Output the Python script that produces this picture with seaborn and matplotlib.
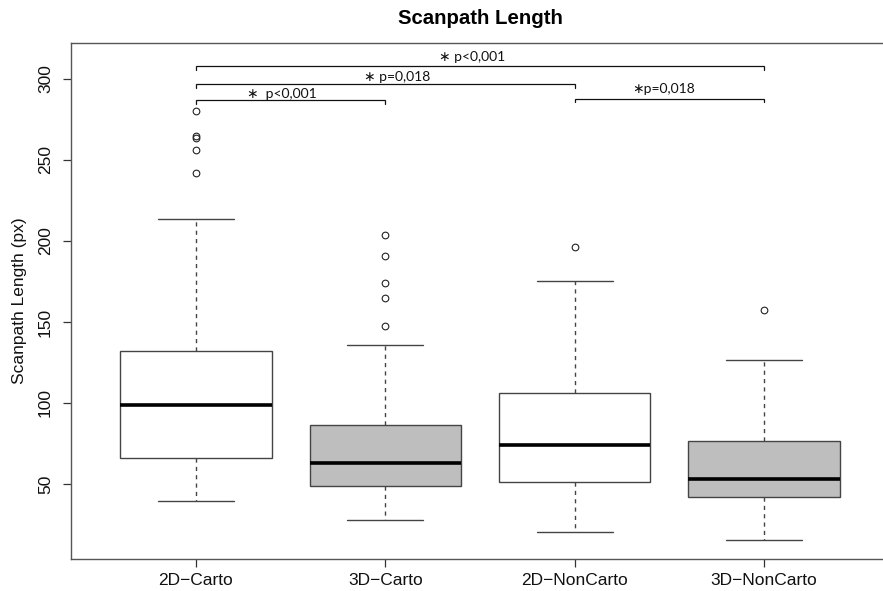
import matplotlib
matplotlib.use("Agg")
import matplotlib.pyplot as plt
import numpy as np
import pandas as pd
import seaborn as sns

# Summary statistics of scanpath length per condition (px)
groups = ["2D-Carto", "3D-Carto", "2D-NonCarto", "3D-NonCarto"]
tick_labels = ["2D\u2212Carto", "3D\u2212Carto", "2D\u2212NonCarto", "3D\u2212NonCarto"]
whisker_low = [39.7, 27.8, 20.6, 15.6]
q1 = [65.9, 48.6, 51.0, 42.2]
median = [99.0, 62.8, 74.1, 53.1]
q3 = [132.3, 86.6, 106.0, 76.5]
whisker_high = [213.4, 135.5, 175.3, 126.5]
outliers = [
    [280.0, 265.0, 263.4, 256.2, 242.0],
    [203.6, 190.6, 174.2, 164.9, 147.3],
    [196.1],
    [157.2],
]
box_colors = ["white", "#bebebe", "white", "#bebebe"]

# Pairwise comparisons: (first group, second group, bracket height, label)
comparisons = [
    (0, 1, 286.7, "\u2217  p<0,001"),
    (0, 2, 296.6, "\u2217 p=0,018"),
    (0, 3, 308.0, "\u2217 p<0,001"),
    (2, 3, 287.7, "\u2217p=0,018"),
]
label_pos = [(0.454, 290.9), (1.061, 301.3), (1.457, 313.6), (2.471, 293.7)]

# Long-form table whose box statistics reproduce the summary values
rows = []
for g, lo, a, m, b, hi, out in zip(groups, whisker_low, q1, median, q3, whisker_high, outliers):
    vals = [lo] + [a] * 20 + [m] * 20 + [b] * 20 + [hi] + list(out)
    rows += [(g, v) for v in vals]
df = pd.DataFrame(rows, columns=["group", "value"])

sns.set_style("white")
plt.rcParams["font.family"] = ["Liberation Sans", "DejaVu Sans"]
plt.rcParams["text.color"] = "black"
plt.rcParams["axes.labelcolor"] = "black"

fig = plt.figure(figsize=(8.83, 5.91), dpi=100)
ax = fig.add_axes([71 / 883, 1 - 558.7 / 591, (889 - 71) / 883, (558.7 - 43.3) / 591])

sns.boxplot(
    data=df, x="group", y="value", hue="group",
    order=groups, hue_order=groups,
    palette=dict(zip(groups, box_colors)), saturation=1, legend=False,
    width=0.8, whis=1.5, linecolor="#444444", linewidth=1.0,
    whiskerprops=dict(linestyle=(0, (3, 3)), color="#444444"),
    capprops=dict(color="#444444"),
    medianprops=dict(color="black", linewidth=2.6),
    flierprops=dict(marker="o", markersize=4.8, markerfacecolor="none",
                    markeredgecolor="#222222", markeredgewidth=0.8),
    ax=ax,
)

ax.set_xlim(-0.66, 3.66)
ax.set_ylim(3.9, 322.0)
ax.set_xticks(range(len(groups)))
ax.set_xticklabels(tick_labels)
ax.set_yticks([50, 100, 150, 200, 250, 300])
ax.tick_params(axis="both", which="both", direction="out", length=6, width=0.9,
               color="#333333", labelsize=12.5, labelcolor="#111111")
ax.tick_params(axis="x", pad=4)
ax.tick_params(axis="y", pad=7, labelrotation=90)
for lab in ax.get_yticklabels():
    lab.set_va("center")
ax.tick_params(bottom=True, left=True)

for s in ax.spines.values():
    s.set_color("#555555")
    s.set_linewidth(1.0)

ax.set_xlabel("")
ax.set_ylabel("Scanpath Length (px)", fontsize=12.5, labelpad=8, color="#111111")
ax.set_title("Scanpath Length", fontsize=14.7, fontweight="bold", pad=14, color="black")

# Significance brackets
for (i, j, h, text), (tx, ty) in zip(comparisons, label_pos):
    ax.plot([i, i, j, j], [h - 2.2, h, h, h - 2.2], color="#111111", lw=0.9,
            solid_joinstyle="miter")
    ax.text(tx, ty, text, ha="center", va="center", fontsize=10,
            family=["Lato", "DejaVu Sans"], color="#111111")

fig.savefig("out.png", dpi=100)
